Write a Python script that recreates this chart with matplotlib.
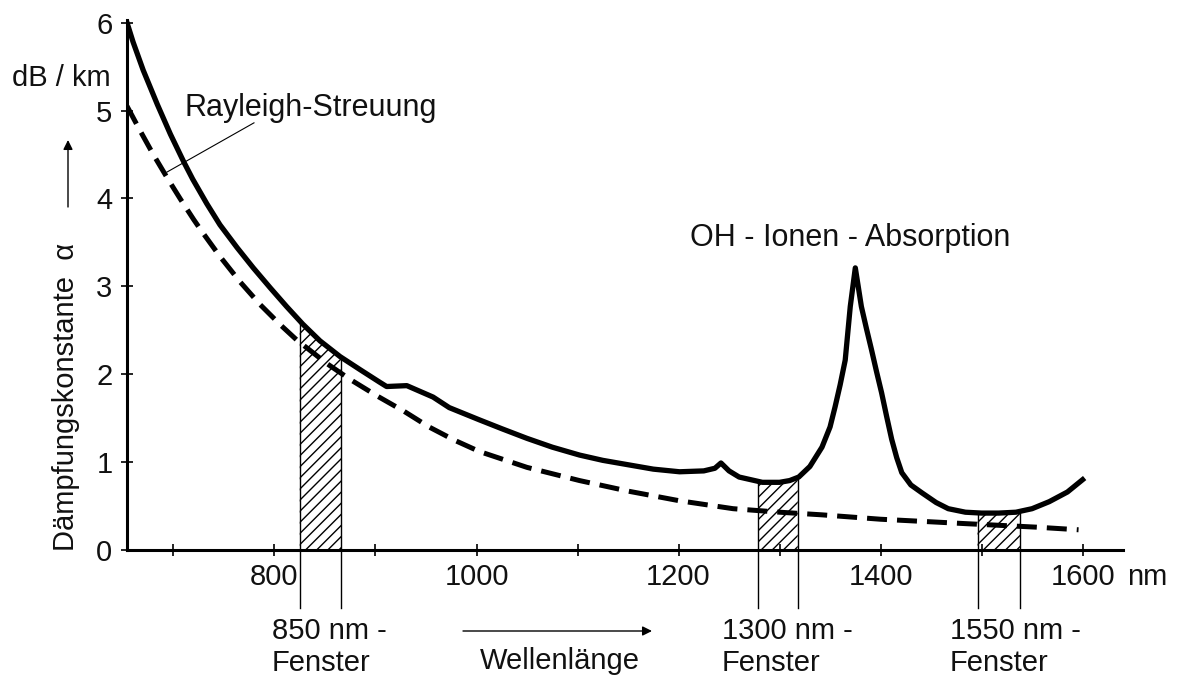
import numpy as np
import matplotlib
matplotlib.use("Agg")
import matplotlib.pyplot as plt

plt.rcParams['font.family'] = ['Liberation Sans', 'DejaVu Sans']
plt.rcParams['hatch.linewidth'] = 1.0

# Total attenuation (solid curve), wavelength in nm, attenuation in dB/km
total_nm = [654, 660, 670, 684, 697, 710, 719, 733, 746, 763, 779, 796, 812, 828,
            845, 865, 885, 904, 911, 931, 957, 973, 1003, 1025, 1050, 1075, 1102,
            1125, 1150, 1175, 1201, 1225, 1236, 1242, 1250, 1260, 1283, 1300,
            1310, 1319, 1330, 1342, 1350, 1355, 1360, 1365, 1370, 1375, 1381,
            1386, 1391, 1396, 1401, 1406, 1411, 1416, 1421, 1430, 1441, 1455,
            1467, 1484, 1500, 1517, 1534, 1550, 1567, 1585, 1600]
total_db = [6.00, 5.78, 5.46, 5.07, 4.73, 4.42, 4.22, 3.94, 3.70, 3.44, 3.21, 2.98,
            2.77, 2.57, 2.38, 2.20, 2.05, 1.91, 1.86, 1.87, 1.74, 1.62, 1.48, 1.38,
            1.27, 1.17, 1.08, 1.02, 0.97, 0.92, 0.89, 0.90, 0.93, 0.99, 0.90, 0.83,
            0.77, 0.77, 0.79, 0.83, 0.95, 1.17, 1.40, 1.63, 1.88, 2.16, 2.77, 3.21,
            2.77, 2.52, 2.28, 2.03, 1.79, 1.52, 1.26, 1.05, 0.88, 0.74, 0.65, 0.54,
            0.47, 0.43, 0.42, 0.42, 0.43, 0.47, 0.55, 0.66, 0.80]

# Rayleigh scattering (dashed curve)
rayleigh_nm = [654, 667, 680, 694, 707, 720, 729, 746, 766, 786, 806, 822, 852,
               875, 902, 928, 953, 978, 1003, 1050, 1102, 1150, 1201, 1254, 1300,
               1342, 1400, 1451, 1484, 1554, 1596]
rayleigh_db = [5.05, 4.77, 4.50, 4.23, 3.99, 3.76, 3.61, 3.34, 3.05, 2.79, 2.56,
               2.39, 2.12, 1.94, 1.75, 1.58, 1.40, 1.25, 1.12, 0.94, 0.79, 0.67,
               0.56, 0.47, 0.43, 0.40, 0.35, 0.32, 0.30, 0.26, 0.23]

# Transmission windows (start, end) in nm and their labels
windows = [(825, 866), (1279, 1318), (1496, 1538)]
window_labels = ["850 nm -\nFenster", "1300 nm -\nFenster", "1550 nm -\nFenster"]

xticks = [700, 800, 900, 1000, 1100, 1200, 1300, 1400, 1500, 1600]
xtick_labels = ["", "800", "", "1000", "", "1200", "", "1400", "", "1600"]
yticks = [0, 1, 2, 3, 4, 5, 6]

W, H = 1183, 679
fig = plt.figure(figsize=(W / 100, H / 100), dpi=100)

def fx(px):
    return px / W

def fy(py):
    return 1 - py / H

ax = fig.add_axes([fx(127), fy(550), fx(1123) - fx(127), fy(20) - fy(550)])
ax.set_xlim(654, 1640)
ax.set_ylim(0, 6.03)

FS = 21
TXT = '#111111'

for s in ['top', 'right']:
    ax.spines[s].set_visible(False)
for s in ['left', 'bottom']:
    ax.spines[s].set_linewidth(2.2)

ax.set_xticks(xticks)
ax.set_xticklabels(xtick_labels, fontsize=FS, color=TXT)
ax.set_yticks(yticks)
ax.set_yticklabels([str(v) for v in yticks], fontsize=FS, color=TXT)
ax.tick_params(axis='both', direction='inout', length=9, width=1.2, pad=5)
ax.tick_params(axis='y', pad=6)

# hatched windows
for (a, b) in windows:
    xs = np.linspace(a, b, 60)
    ys = np.interp(xs, total_nm, total_db)
    ax.fill_between(xs, 0, ys, facecolor='white', edgecolor='black',
                    hatch='///', linewidth=0, zorder=1)
    for xe in (a, b):
        top = np.interp(xe, total_nm, total_db)
        ax.plot([xe, xe], [-0.66, top], color='black', lw=1.0,
                clip_on=False, zorder=2)

ax.plot(rayleigh_nm, rayleigh_db, color='black', lw=3.6,
        dashes=(4, 2), zorder=3, solid_capstyle='butt')
ax.plot(total_nm, total_db, color='black', lw=3.8, zorder=4,
        solid_joinstyle='round')

# Rayleigh annotation
ax.plot([779.7, 693.6], [4.86, 4.30], color='black', lw=0.8, zorder=5)
ax.text(711, 5.03, "Rayleigh-Streuung", fontsize=FS + 1, ha='left',
        va='center', color=TXT)

ax.text(1211, 3.55, "OH - Ionen - Absorption", fontsize=FS + 1,
        ha='left', va='center', color=TXT)

# window labels
label_x = [272, 722, 950]
for lx, lab in zip(label_x, window_labels):
    l1, l2 = lab.split("\n")
    fig.text(fx(lx), fy(631), l1, fontsize=FS, ha='left', va='center', color=TXT)
    fig.text(fx(lx), fy(663), l2, fontsize=FS, ha='left', va='center', color=TXT)

# axis texts
fig.text(fx(12), fy(78), "dB / km", fontsize=FS, ha='left', va='center', color=TXT)
fig.text(fx(66), fy(397), "Dämpfungskonstante  α", fontsize=FS,
         rotation=90, ha='center', va='center', color=TXT)
fig.text(fx(1127), fy(577), "nm", fontsize=FS, ha='left', va='center', color=TXT)
fig.text(fx(480), fy(661), "Wellenlänge", fontsize=FS, ha='left', va='center',
         color=TXT)

# arrows
ax.annotate("", xy=(fx(68), fy(140)), xytext=(fx(68), fy(207)),
            xycoords='figure fraction', textcoords='figure fraction',
            arrowprops=dict(arrowstyle='-|>', lw=1.0, color='black',
                            mutation_scale=14, shrinkA=0, shrinkB=0))
ax.annotate("", xy=(fx(652), fy(631)), xytext=(fx(463), fy(631)),
            xycoords='figure fraction', textcoords='figure fraction',
            arrowprops=dict(arrowstyle='-|>', lw=1.0, color='black',
                            mutation_scale=14, shrinkA=0, shrinkB=0))

fig.savefig("out.png", dpi=100)
